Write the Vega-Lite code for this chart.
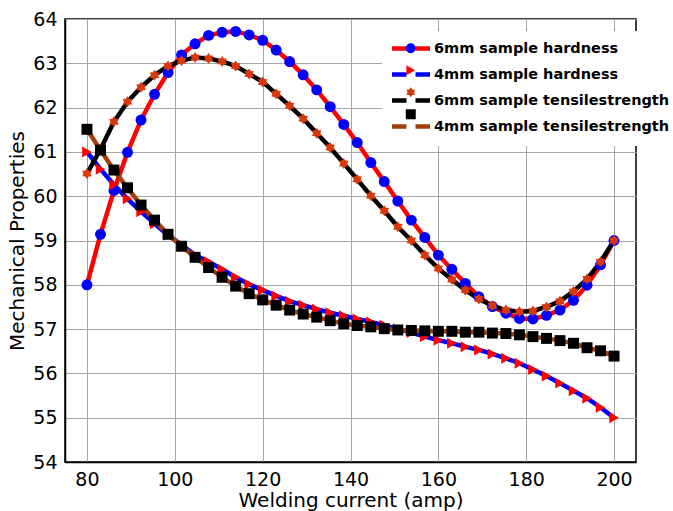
{
  "$schema": "https://vega.github.io/schema/vega-lite/v6.json",
  "width": 571,
  "height": 443,
  "autosize": {"type": "none"},
  "padding": {"left": 65, "top": 19, "right": 37, "bottom": 49},
  "background": "white",
  "config": {
    "font": "DejaVu Sans",
    "view": {"stroke": "black", "strokeWidth": 1.5},
    "axis": {
      "labelFont": "DejaVu Sans", "labelFontSize": 19, "labelColor": "black",
      "titleFont": "DejaVu Sans", "titleFontSize": 20, "titleFontWeight": "normal", "titleColor": "black",
      "gridColor": "#a6a6a6", "gridWidth": 1, "gridOpacity": 1,
      "domainColor": "black", "domainWidth": 1.5, "ticks": false
    }
  },
  "data": {
    "values": [
      {"current": 80, "6mm sample hardness": 58.00, "4mm sample hardness": 61.00, "6mm sample tensilestrength": 60.51, "4mm sample tensilestrength": 61.51},
      {"current": 83.08, "6mm sample hardness": 59.14, "4mm sample hardness": 60.61, "6mm sample tensilestrength": 61.06, "4mm sample tensilestrength": 61.04},
      {"current": 86.15, "6mm sample hardness": 60.13, "4mm sample hardness": 60.26, "6mm sample tensilestrength": 61.68, "4mm sample tensilestrength": 60.59},
      {"current": 89.23, "6mm sample hardness": 60.99, "4mm sample hardness": 59.94, "6mm sample tensilestrength": 62.13, "4mm sample tensilestrength": 60.19},
      {"current": 92.31, "6mm sample hardness": 61.72, "4mm sample hardness": 59.65, "6mm sample tensilestrength": 62.46, "4mm sample tensilestrength": 59.80},
      {"current": 95.38, "6mm sample hardness": 62.30, "4mm sample hardness": 59.38, "6mm sample tensilestrength": 62.73, "4mm sample tensilestrength": 59.46},
      {"current": 98.46, "6mm sample hardness": 62.79, "4mm sample hardness": 59.12, "6mm sample tensilestrength": 62.94, "4mm sample tensilestrength": 59.14},
      {"current": 101.54, "6mm sample hardness": 63.19, "4mm sample hardness": 58.90, "6mm sample tensilestrength": 63.06, "4mm sample tensilestrength": 58.87},
      {"current": 104.62, "6mm sample hardness": 63.44, "4mm sample hardness": 58.67, "6mm sample tensilestrength": 63.13, "4mm sample tensilestrength": 58.62},
      {"current": 107.69, "6mm sample hardness": 63.63, "4mm sample hardness": 58.52, "6mm sample tensilestrength": 63.11, "4mm sample tensilestrength": 58.39},
      {"current": 110.77, "6mm sample hardness": 63.70, "4mm sample hardness": 58.35, "6mm sample tensilestrength": 63.04, "4mm sample tensilestrength": 58.17},
      {"current": 113.85, "6mm sample hardness": 63.72, "4mm sample hardness": 58.17, "6mm sample tensilestrength": 62.94, "4mm sample tensilestrength": 57.97},
      {"current": 116.92, "6mm sample hardness": 63.64, "4mm sample hardness": 58.01, "6mm sample tensilestrength": 62.76, "4mm sample tensilestrength": 57.80},
      {"current": 120, "6mm sample hardness": 63.52, "4mm sample hardness": 57.88, "6mm sample tensilestrength": 62.58, "4mm sample tensilestrength": 57.66},
      {"current": 123.08, "6mm sample hardness": 63.30, "4mm sample hardness": 57.75, "6mm sample tensilestrength": 62.31, "4mm sample tensilestrength": 57.54},
      {"current": 126.15, "6mm sample hardness": 63.04, "4mm sample hardness": 57.63, "6mm sample tensilestrength": 62.04, "4mm sample tensilestrength": 57.43},
      {"current": 129.23, "6mm sample hardness": 62.74, "4mm sample hardness": 57.54, "6mm sample tensilestrength": 61.75, "4mm sample tensilestrength": 57.34},
      {"current": 132.31, "6mm sample hardness": 62.40, "4mm sample hardness": 57.45, "6mm sample tensilestrength": 61.42, "4mm sample tensilestrength": 57.27},
      {"current": 135.38, "6mm sample hardness": 62.02, "4mm sample hardness": 57.37, "6mm sample tensilestrength": 61.10, "4mm sample tensilestrength": 57.19},
      {"current": 138.46, "6mm sample hardness": 61.62, "4mm sample hardness": 57.30, "6mm sample tensilestrength": 60.74, "4mm sample tensilestrength": 57.12},
      {"current": 141.54, "6mm sample hardness": 61.21, "4mm sample hardness": 57.23, "6mm sample tensilestrength": 60.38, "4mm sample tensilestrength": 57.08},
      {"current": 144.62, "6mm sample hardness": 60.76, "4mm sample hardness": 57.16, "6mm sample tensilestrength": 60.01, "4mm sample tensilestrength": 57.05},
      {"current": 147.69, "6mm sample hardness": 60.33, "4mm sample hardness": 57.09, "6mm sample tensilestrength": 59.67, "4mm sample tensilestrength": 57.01},
      {"current": 150.77, "6mm sample hardness": 59.89, "4mm sample hardness": 57.00, "6mm sample tensilestrength": 59.31, "4mm sample tensilestrength": 56.98},
      {"current": 153.85, "6mm sample hardness": 59.46, "4mm sample hardness": 56.92, "6mm sample tensilestrength": 59.00, "4mm sample tensilestrength": 56.97},
      {"current": 156.92, "6mm sample hardness": 59.07, "4mm sample hardness": 56.83, "6mm sample tensilestrength": 58.67, "4mm sample tensilestrength": 56.96},
      {"current": 160, "6mm sample hardness": 58.67, "4mm sample hardness": 56.75, "6mm sample tensilestrength": 58.37, "4mm sample tensilestrength": 56.95},
      {"current": 163.08, "6mm sample hardness": 58.35, "4mm sample hardness": 56.68, "6mm sample tensilestrength": 58.12, "4mm sample tensilestrength": 56.95},
      {"current": 166.15, "6mm sample hardness": 58.03, "4mm sample hardness": 56.60, "6mm sample tensilestrength": 57.88, "4mm sample tensilestrength": 56.93},
      {"current": 169.23, "6mm sample hardness": 57.73, "4mm sample hardness": 56.53, "6mm sample tensilestrength": 57.68, "4mm sample tensilestrength": 56.93},
      {"current": 172.31, "6mm sample hardness": 57.51, "4mm sample hardness": 56.44, "6mm sample tensilestrength": 57.53, "4mm sample tensilestrength": 56.91},
      {"current": 175.38, "6mm sample hardness": 57.36, "4mm sample hardness": 56.34, "6mm sample tensilestrength": 57.43, "4mm sample tensilestrength": 56.90},
      {"current": 178.46, "6mm sample hardness": 57.24, "4mm sample hardness": 56.23, "6mm sample tensilestrength": 57.39, "4mm sample tensilestrength": 56.87},
      {"current": 181.54, "6mm sample hardness": 57.23, "4mm sample hardness": 56.09, "6mm sample tensilestrength": 57.41, "4mm sample tensilestrength": 56.83},
      {"current": 184.62, "6mm sample hardness": 57.31, "4mm sample hardness": 55.94, "6mm sample tensilestrength": 57.50, "4mm sample tensilestrength": 56.79},
      {"current": 187.69, "6mm sample hardness": 57.43, "4mm sample hardness": 55.78, "6mm sample tensilestrength": 57.63, "4mm sample tensilestrength": 56.74},
      {"current": 190.77, "6mm sample hardness": 57.65, "4mm sample hardness": 55.61, "6mm sample tensilestrength": 57.85, "4mm sample tensilestrength": 56.68},
      {"current": 193.85, "6mm sample hardness": 57.99, "4mm sample hardness": 55.44, "6mm sample tensilestrength": 58.13, "4mm sample tensilestrength": 56.58},
      {"current": 196.92, "6mm sample hardness": 58.45, "4mm sample hardness": 55.23, "6mm sample tensilestrength": 58.52, "4mm sample tensilestrength": 56.51},
      {"current": 200, "6mm sample hardness": 59.00, "4mm sample hardness": 55.00, "6mm sample tensilestrength": 59.00, "4mm sample tensilestrength": 56.39}
    ]
  },
  "encoding": {
    "x": {
      "field": "current", "type": "quantitative",
      "scale": {"domain": [75, 205], "nice": false, "zero": false},
      "axis": {"values": [80, 100, 120, 140, 160, 180, 200], "title": "Welding current (amp)", "labelPadding": 8, "titlePadding": 1, "labelFlush": false}
    },
    "y": {
      "field": "value", "type": "quantitative",
      "scale": {"domain": [54, 64], "nice": false, "zero": false},
      "axis": {"values": [54, 55, 56, 57, 58, 59, 60, 61, 62, 63, 64], "title": "Mechanical Properties", "labelPadding": 8, "titlePadding": 5, "labelFlush": false}
    }
  },
  "layer": [
    {
      "transform": [
        {"fold": ["6mm sample hardness", "4mm sample hardness", "6mm sample tensilestrength", "4mm sample tensilestrength"], "as": ["series", "value"]}
      ],
      "mark": {"type": "line", "strokeWidth": 4.5},
      "encoding": {
        "color": {
          "field": "series", "type": "nominal",
          "scale": {"domain": ["6mm sample hardness", "4mm sample hardness", "6mm sample tensilestrength", "4mm sample tensilestrength"], "range": ["#ff0000", "#0000ff", "#000000", "#a33f0c"]},
          "legend": {"orient": "none", "legendX": 317, "legendY": 12, "zindex": 1, "title": null, "symbolType": "M-3.8,0L-0.9,0M0.9,0L3.8,0", "symbolSize": 100, "symbolStrokeWidth": 4.5, "symbolOffset": 11.5, "labelFont": "DejaVu Sans", "labelFontSize": 14.5, "labelFontWeight": "bold", "labelColor": "black", "fillColor": "white", "padding": 10, "rowPadding": 7, "labelOffset": 15.5, "labelLimit": 400}
        }
      }
    },
    {
      "transform": [
        {"fold": ["6mm sample hardness", "4mm sample hardness", "6mm sample tensilestrength", "4mm sample tensilestrength"], "as": ["kind", "value"]}
      ],
      "mark": {"type": "point", "filled": true, "opacity": 1, "strokeWidth": 0, "size": 120},
      "encoding": {
        "fill": {
          "field": "kind", "type": "nominal",
          "scale": {"domain": ["6mm sample hardness", "4mm sample hardness", "6mm sample tensilestrength", "4mm sample tensilestrength", "unused"], "range": ["#0000ff", "#ff0000", "#d8380c", "#000000", "transparent"]},
          "legend": {"orient": "none", "legendX": 317, "legendY": 12, "zindex": 2, "title": null, "symbolSize": 100, "symbolStrokeWidth": 0, "symbolOffset": 11.5, "labelFont": "DejaVu Sans", "labelFontSize": 14.5, "labelFontWeight": "bold", "labelOpacity": 0, "padding": 10, "rowPadding": 7, "labelOffset": 15.5, "labelLimit": 400}
        },
        "shape": {
          "field": "kind", "type": "nominal",
          "scale": {"domain": ["6mm sample hardness", "4mm sample hardness", "6mm sample tensilestrength", "4mm sample tensilestrength", "unused"], "range": ["circle", "triangle-right", "M0,-1L0.32,-0.55L0.87,-0.5L0.63,0L0.87,0.5L0.32,0.55L0,1L-0.32,0.55L-0.87,0.5L-0.63,0L-0.87,-0.5L-0.32,-0.55Z", "square", "circle"]},
          "legend": {"orient": "none", "legendX": 317, "legendY": 12, "zindex": 2, "title": null, "symbolSize": 100, "symbolStrokeWidth": 0, "symbolOffset": 11.5, "labelFont": "DejaVu Sans", "labelFontSize": 14.5, "labelFontWeight": "bold", "labelOpacity": 0, "padding": 10, "rowPadding": 7, "labelOffset": 15.5, "labelLimit": 400}
        }
      }
    }
  ]
}
